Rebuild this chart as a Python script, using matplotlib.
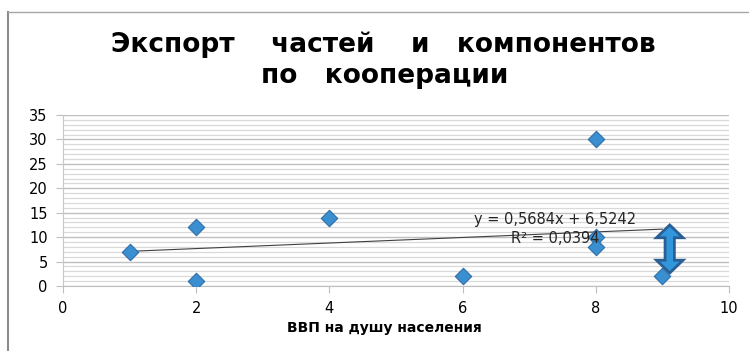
import numpy as np
import matplotlib
matplotlib.use("Agg")
import matplotlib.pyplot as plt
from matplotlib.patches import Polygon
from matplotlib.lines import Line2D

plt.rcParams["font.family"] = ["DejaVu Sans"]

# ВВП на душу населения / экспорт частей и компонентов
gdp = [1, 2, 2, 4, 6, 8, 8, 8, 9]
export = [7, 12, 1, 14, 2, 30, 10, 8, 2]

title_1 = "Экспорт    частей    и   компонентов"
title_2 = "по   кооперации"
xlabel = "ВВП на душу населения"

# линейный тренд
slope, intercept = np.polyfit(gdp, export, 1)
pred = slope * np.array(gdp) + intercept
r2 = 1 - np.sum((np.array(export) - pred) ** 2) / np.sum((np.array(export) - np.mean(export)) ** 2)

W, H = 749, 351
fig = plt.figure(figsize=(W / 100, H / 100), dpi=100)
fig.patch.set_facecolor("white")

# рамка диаграммы (слева и сверху)
fig.add_artist(Line2D([8 / W, 8 / W], [0, 1 - 12 / H], color="#8c8c8c", lw=1.5))
fig.add_artist(Line2D([8 / W, 1], [1 - 12 / H, 1 - 12 / H], color="#a6a6a6", lw=1))

ax = fig.add_axes([63 / W, (H - 286) / H, 666 / W, 171 / H])
ax.set_xlim(0, 10)
ax.set_ylim(0, 35)
ax.set_xticks(range(0, 11, 2))
ax.set_yticks(range(0, 36, 5))
ax.set_yticks(range(0, 36), minor=True)
ax.grid(which="minor", axis="y", color="#d9d9d9", lw=0.9)
ax.grid(which="major", axis="y", color="#bfbfbf", lw=1.0)
ax.set_axisbelow(True)
for s in ["top", "right"]:
    ax.spines[s].set_visible(False)
ax.spines["bottom"].set_color("#bfbfbf")
ax.spines["left"].set_color("#c8c8c8")
ax.tick_params(axis="y", which="minor", length=0)
ax.tick_params(axis="y", which="major", length=5, color="#bfbfbf", labelsize=10.5, pad=6)
ax.tick_params(axis="x", length=5, color="#bfbfbf", labelsize=10.5, pad=6)

xs = np.array([min(gdp), max(gdp)])
ax.plot(xs, slope * xs + intercept, color="#404040", lw=0.8, zorder=2)
ax.scatter(gdp, export, marker="D", s=70, color="#3a8fd0", edgecolor="#2f6ea8",
           linewidth=0.8, zorder=3)

eq = f"y = {slope:.4f}x + {intercept:.4f}".replace(".", ",")
ax.text(0.739, 0.386, eq, transform=ax.transAxes, ha="center", va="center",
        fontsize=10.5, color="#262626", zorder=4)
ax.text(0.739, 0.275, f"R² = {r2:.4f}".replace(".", ","), transform=ax.transAxes,
        ha="center", va="center", fontsize=10.5, color="#262626", zorder=4)

# двусторонняя стрелка
cx, top, bot = 0.911, 0.357, 0.076
hw, sw, hl = 0.02, 0.007, 0.075
pts = [(cx, top), (cx + hw, top - hl), (cx + sw, top - hl), (cx + sw, bot + hl),
       (cx + hw, bot + hl), (cx, bot), (cx - hw, bot + hl), (cx - sw, bot + hl),
       (cx - sw, top - hl), (cx - hw, top - hl)]
ax.add_patch(Polygon(pts, closed=True, transform=ax.transAxes, facecolor="#3196dc",
                     edgecolor="#2a5f95", lw=2, zorder=5, clip_on=False))

fig.text(384 / W, 1 - 328 / H, xlabel, ha="center", va="center", fontsize=10,
         fontweight="bold")
fig.text(383 / W, 1 - 45 / H, title_1, ha="center", va="center", fontsize=19,
         fontweight="bold")
fig.text(385 / W, 1 - 76 / H, title_2, ha="center", va="center", fontsize=19,
         fontweight="bold")

fig.savefig("out.png", dpi=100, facecolor="white")
